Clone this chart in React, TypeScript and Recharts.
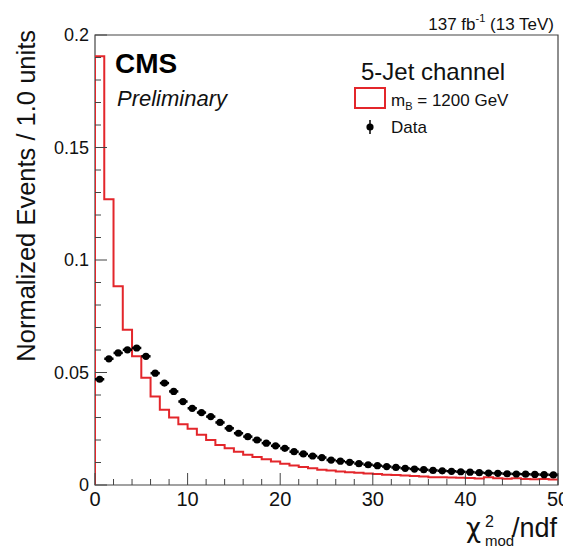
import React from "react";
import {
  ComposedChart,
  Line,
  Scatter,
  XAxis,
  YAxis,
  ReferenceArea,
} from "recharts";

// bin contents, 1 unit bins from 0 to 50
const SIGNAL_MB1200 = [
  0.1906, 0.127, 0.0883, 0.069, 0.0572, 0.0477, 0.0393, 0.0334, 0.03, 0.027,
  0.025, 0.0223, 0.02, 0.0178, 0.0163, 0.0148, 0.0135, 0.0125, 0.0115, 0.0105,
  0.0094, 0.0087, 0.008, 0.0074, 0.0068, 0.0064, 0.006, 0.0057, 0.0054, 0.0051,
  0.0049, 0.0046, 0.0044, 0.0042, 0.004, 0.0038, 0.0035, 0.0034, 0.0033, 0.0032,
  0.0031, 0.0029, 0.0034, 0.003, 0.0028, 0.003, 0.0027, 0.0026, 0.0027, 0.0024,
];

const DATA = [
  0.047, 0.0561, 0.0587, 0.0601, 0.0609, 0.0572, 0.0497, 0.0453, 0.0416, 0.0371,
  0.0341, 0.0322, 0.0304, 0.0278, 0.0252, 0.023, 0.0215, 0.02, 0.0186, 0.0174,
  0.0163, 0.0148, 0.0138, 0.0129, 0.0122, 0.0111, 0.0106, 0.0101, 0.0095, 0.009,
  0.0086, 0.0082, 0.0078, 0.0074, 0.0071, 0.0068, 0.0065, 0.0063, 0.0061, 0.0059,
  0.0057, 0.0055, 0.0053, 0.0052, 0.005, 0.0049, 0.0048, 0.0047, 0.0046, 0.0045,
];

const BIN_WIDTH = 1;
const X_TICKS = [0, 2, 4, 6, 8, 10, 12, 14, 16, 18, 20, 22, 24, 26, 28, 30, 32, 34, 36, 38, 40, 42, 44, 46, 48, 50];
const Y_TICKS = [
  0, 0.01, 0.02, 0.03, 0.04, 0.05, 0.06, 0.07, 0.08, 0.09, 0.1, 0.11, 0.12,
  0.13, 0.14, 0.15, 0.16, 0.17, 0.18, 0.19, 0.2,
];

const FONT = '"Liberation Sans", Arial, Helvetica, sans-serif';
const RED = "#e3262b";
const FRAME = "#444";
const PX_PER_BIN = 463 / 50; // plot is 463px wide for 50 units

// step histogram: start at the axis, then one point per bin edge
const signalLine = [
  { x: 0, y: 0 },
  ...SIGNAL_MB1200.map((v, i) => ({ x: i * BIN_WIDTH, y: v })),
  { x: SIGNAL_MB1200.length * BIN_WIDTH, y: SIGNAL_MB1200[SIGNAL_MB1200.length - 1] },
];

const dataPoints = DATA.map((v, i) => ({ x: (i + 0.5) * BIN_WIDTH, y: v }));

function XTick(props: any) {
  const { x, y, payload } = props;
  const v = payload.value;
  const major = v % 10 === 0;
  return (
    <g>
      <line x1={x} x2={x} y1={y} y2={y - (major ? 12 : 6)} stroke={FRAME} />
      {major && (
        <text x={x} y={y + 21} textAnchor="middle" fontSize={20} fontFamily={FONT} fill="#111">
          {v}
        </text>
      )}
    </g>
  );
}

function YTick(props: any) {
  const { x, y, payload } = props;
  const v = payload.value;
  const major = Math.round(v * 100) % 5 === 0;
  const label = v === 0 ? "0" : String(+v.toFixed(2));
  return (
    <g>
      <line x1={x} x2={x + (major ? 12 : 6)} y1={y} y2={y} stroke={FRAME} />
      {major && (
        <text x={x - 6} y={y + 6} textAnchor="end" fontSize={18} fontFamily={FONT} fill="#111">
          {label}
        </text>
      )}
    </g>
  );
}

// filled marker with the horizontal bin-width error bar
function renderDot(props: any) {
  const { cx, cy } = props;
  const hw = (PX_PER_BIN * BIN_WIDTH) / 2;
  return (
    <g>
      <path d={`M${cx - hw},${cy}H${cx + hw}`} stroke="#000" strokeWidth={2.5} fill="none" />
      <circle cx={cx} cy={cy} r={3.6} fill="#000" />
    </g>
  );
}

export default function App() {
  return (
    <div style={{ position: "absolute", left: 0, top: 0, width: 563, height: 548, background: "#fff" }}>
      <ComposedChart
        width={563}
        height={548}
        margin={{ top: 35, right: 5, left: 0, bottom: 0 }}
      >
        <XAxis
          type="number"
          dataKey="x"
          domain={[0, 50]}
          ticks={X_TICKS}
          interval={0}
          allowDataOverflow
          axisLine={false}
          tickLine={false}
          tickSize={0}
          tickMargin={0}
          height={63}
          tick={<XTick />}
        />
        <YAxis
          type="number"
          dataKey="y"
          domain={[0, 0.2]}
          ticks={Y_TICKS}
          interval={0}
          allowDataOverflow
          axisLine={false}
          tickLine={false}
          tickSize={0}
          tickMargin={0}
          width={95}
          tick={<YTick />}
        />
        <ReferenceArea x1={0} x2={50} y1={0} y2={0.2} fill="none" stroke={FRAME} strokeWidth={1.2} />
        <Line
          data={signalLine}
          dataKey="y"
          type="stepAfter"
          stroke={RED}
          strokeWidth={2}
          dot={false}
          isAnimationActive={false}
        />
        <Scatter data={dataPoints} dataKey="y" fill="#000" shape={renderDot} isAnimationActive={false} />
      </ComposedChart>

      <svg
        width={563}
        height={548}
        style={{ position: "absolute", left: 0, top: 0, pointerEvents: "none" }}
        fontFamily={FONT}
      >
        <text x={554} y={30} textAnchor="end" fontSize={17} fill="#111">
          137 fb
          <tspan fontSize={11} dy={-8}>-1</tspan>
          <tspan dy={8}> (13 TeV)</tspan>
        </text>
        <text x={115} y={73} fontSize={28} fontWeight="bold" fill="#000">CMS</text>
        <text x={117} y={106} fontSize={22} fontStyle="italic" fill="#111">Preliminary</text>

        <text x={361} y={80} fontSize={24} fill="#111">5-Jet channel</text>
        <rect x={355} y={88} width={30} height={20} fill="none" stroke={RED} strokeWidth={2} />
        <text x={391} y={106} fontSize={17} fill="#111">
          m<tspan fontSize={11} dy={4}>B</tspan>
          <tspan dy={-4}> = 1200 GeV</tspan>
        </text>
        <line x1={370} x2={370} y1={120} y2={134} stroke="#000" strokeWidth={1.5} />
        <circle cx={370} cy={127} r={3.6} fill="#000" />
        <text x={391} y={133} fontSize={17} fill="#111">Data</text>

        <text
          transform="translate(35, 30) rotate(-90)"
          textAnchor="end"
          fontSize={25.5}
          fill="#111"
        >
          Normalized Events / 1.0 units
        </text>

        <text x={557} y={537} textAnchor="end" fontSize={27} fill="#111">/ndf</text>
        <text x={485} y={546} fontSize={15} fill="#111">mod</text>
        <text x={485} y={527} fontSize={16} fill="#111">2</text>
        <text x={466} y={537} fontSize={26} fontFamily='"DejaVu Sans", sans-serif' fill="#111">χ</text>
      </svg>
    </div>
  );
}
